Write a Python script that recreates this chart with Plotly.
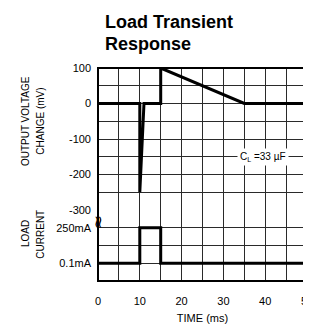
import plotly.graph_objects as go

# Data
time_v = [0, 10, 10, 11, 15, 15, 35, 50]
voltage_mv = [0, 0, -250, 0, 0, 100, 0, 0]
time_i = [0, 10, 10, 15, 15, 50]
current_ma = [0.1, 0.1, 250, 250, 0.1, 0.1]

x_ticks = [0, 10, 20, 30, 40, 50]
v_ticks = [100, 0, -100, -200, -300]
v_ticktext = ["100", "0", "-100", "-200", "-300"]
i_ticks = [0.1, 125.05, 250, 374.95]
i_ticktext = ["0.1mA", " ", "250mA", " "]

FONT = "Liberation Sans, Arial, sans-serif"
GRID = "#2a2a2a"

fig = go.Figure()
fig.add_trace(go.Scatter(x=time_v, y=voltage_mv, mode="lines",
                         line=dict(color="black", width=3), xaxis="x", yaxis="y",
                         hoverinfo="skip"))
fig.add_trace(go.Scatter(x=time_i, y=current_ma, mode="lines",
                         line=dict(color="black", width=3), xaxis="x", yaxis="y2",
                         hoverinfo="skip"))

L, R, T, B = 90, 6, 60, 53
W, H = 311, 326
pw, ph = W - L - R, H - T - B

def px(x):
    return (x - L) / pw

def py(y):
    return (H - B - y) / ph

fig.update_layout(
    width=W, height=H,
    margin=dict(l=L, r=R, t=T, b=B, pad=0),
    paper_bgcolor="white", plot_bgcolor="white",
    showlegend=False,
    font=dict(family=FONT, size=11, color="black"),
    xaxis=dict(range=[0, 50], tickvals=x_ticks, ticktext=[str(v) for v in x_ticks],
               showgrid=True, gridcolor=GRID, gridwidth=1,
               minor=dict(dtick=5, tick0=0, showgrid=True, gridcolor=GRID, gridwidth=1),
               zeroline=False, showline=False, ticks="", anchor="y2",
               ticklabelstandoff=12, ticklabeloverflow="allow", tickfont=dict(size=11),
               title=dict(text="TIME (ms)", font=dict(size=11), standoff=8),
               fixedrange=True),
    yaxis=dict(domain=[4/12, 1], range=[-300, 100], tickvals=v_ticks, ticktext=v_ticktext,
               showgrid=True, gridcolor=GRID, gridwidth=1,
               minor=dict(dtick=50, tick0=0, showgrid=True, gridcolor=GRID, gridwidth=1),
               zeroline=False, showline=False, ticks="", anchor="x",
               ticklabelstandoff=6, ticklabeloverflow="allow", fixedrange=True),
    yaxis2=dict(domain=[0, 4/12], range=[-124.85, 374.95], tickvals=i_ticks,
                ticktext=i_ticktext, showgrid=True, gridcolor=GRID, gridwidth=1,
                zeroline=False, showline=False, ticks="", anchor="x",
                ticklabelstandoff=6, ticklabeloverflow="allow", fixedrange=True),
)

# outer frame
fig.add_shape(type="rect", xref="paper", yref="paper", x0=0, x1=1, y0=0, y1=1,
              line=dict(color="black", width=2), layer="above")

ann = []
ann.append(dict(text="<b>Load Transient</b>", x=px(95), y=py(14), xref="paper", yref="paper",
                xanchor="left", yanchor="middle", showarrow=False,
                font=dict(size=18, family=FONT)))
ann.append(dict(text="<b>Response</b>", x=px(95), y=py(36), xref="paper", yref="paper",
                xanchor="left", yanchor="middle", showarrow=False,
                font=dict(size=18, family=FONT)))
for txt, xx, yy in [("OUTPUT VOLTAGE", 15, 113), ("CHANGE (mV)", 30, 113),
                    ("LOAD", 15, 226), ("CURRENT", 30, 226)]:
    ann.append(dict(text=txt, x=px(xx), y=py(yy), xref="paper", yref="paper",
                    xanchor="center", yanchor="middle", textangle=-90, showarrow=False,
                    font=dict(size=10, family=FONT)))
ann.append(dict(text="C<sub>L</sub> =33 µF", x=39.5, y=-150, xref="x", yref="y",
                xanchor="center", yanchor="middle", showarrow=False, bgcolor="white",
                borderpad=2, font=dict(size=10, family=FONT)))
ann.append(dict(text="≈", x=px(91), y=py(214), xref="paper", yref="paper",
                xanchor="center", yanchor="middle", textangle=90, showarrow=False,
                bgcolor="rgba(0,0,0,0)", borderpad=0, font=dict(size=17, family="DejaVu Sans")))
fig.update_layout(annotations=ann)

fig.write_html("out.html")
